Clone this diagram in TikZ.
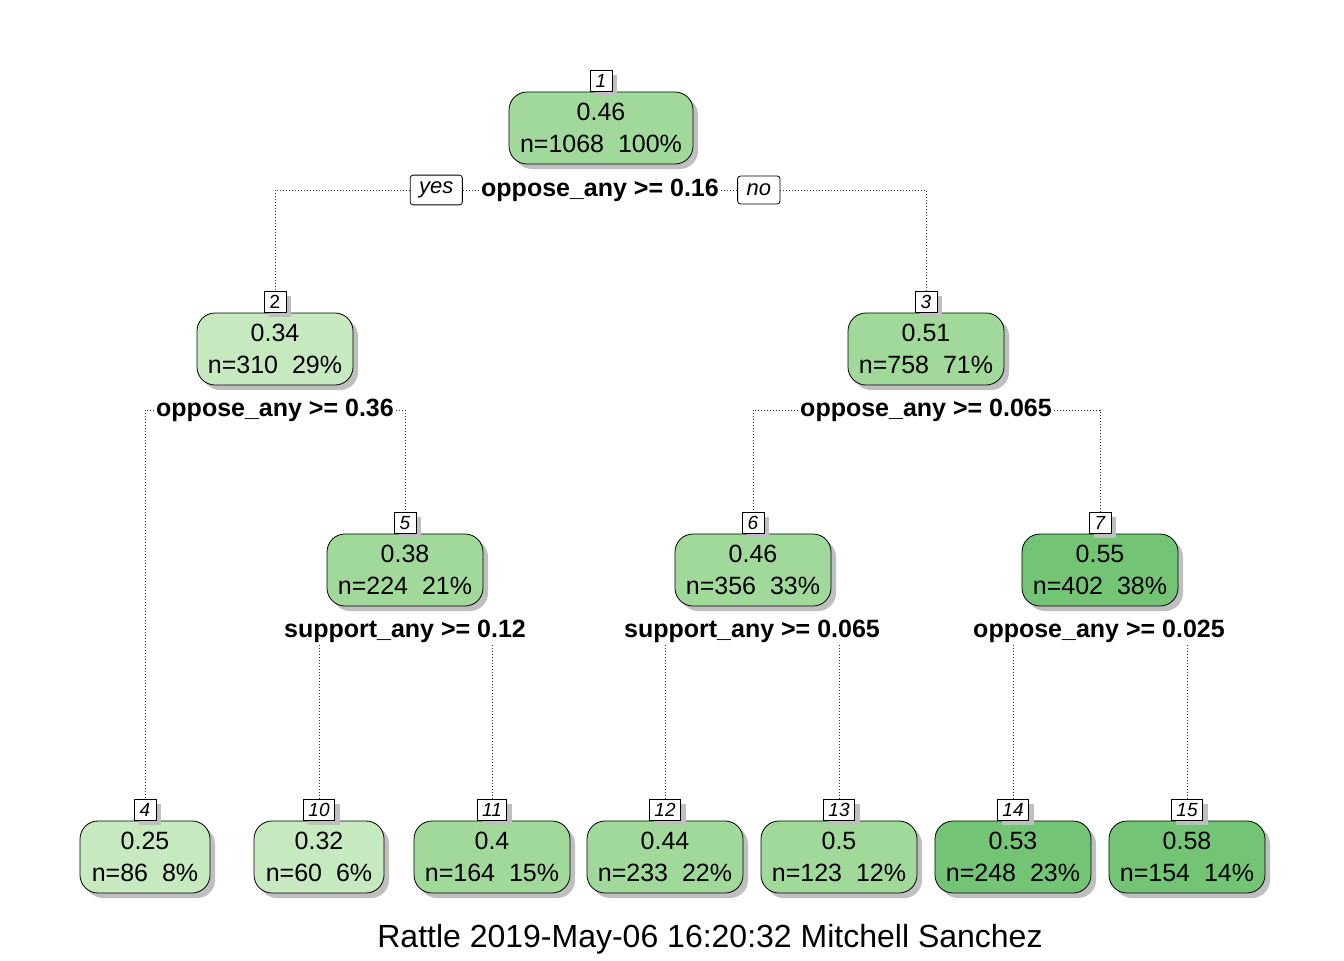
\documentclass[tikz,border=0pt]{standalone}
\usepackage{fontspec}
\setmainfont{Liberation Sans}
\usepackage{tikz}
\usetikzlibrary{positioning}
\usetikzlibrary{shadows}
\definecolor{gLight}{HTML}{C7E9C0}
\definecolor{gMid}{HTML}{A1D99B}
\definecolor{gDark}{HTML}{74C476}
\begin{document}
\begin{tikzpicture}[x=0.5pt,y=-0.5pt,
  box/.style={draw,thin,rounded corners=9pt,align=center,minimum width=78pt,minimum height=36pt,inner sep=0pt,
    font=\fontsize{12.5}{16}\selectfont,drop shadow={shadow xshift=2.5pt,shadow yshift=-2.5pt,fill=black!25,opacity=1}},
  leafbox/.style={box,minimum width=65pt},
  tag/.style={draw,thin,fill=white,inner xsep=2.5pt,inner ysep=0pt,minimum width=11pt,minimum height=10.5pt,
    font=\fontsize{9.5}{10}\selectfont\itshape,drop shadow={shadow xshift=2.5pt,shadow yshift=-2.5pt,fill=black!25,opacity=1}},
  split/.style={font=\fontsize{12.5}{15}\selectfont\bfseries,inner sep=1pt},
  yesno/.style={draw,thin,fill=white,rounded corners=1.5pt,minimum height=14pt,inner xsep=4.5pt,font=\fontsize{11}{12}\selectfont\itshape},
  edge/.style={draw=black!80,thin,dash pattern=on 0.5pt off 1pt}]
  \useasboundingbox (0,0) rectangle (1344,960);

  % root and second level
  \node[box,fill=gMid,minimum width=92pt] (n1) at (601,128) {0.46\\n=1068\ \ 100\%};
  \node[tag,above=0pt of n1] (t1) {1};
  \node[split] (s1) at (600,190) {oppose\_any >= 0.16};
  \node[yesno,left=8pt of s1] (yes) {yes};
  \node[yesno,right=8pt of s1] (no) {no};

  \node[box,fill=gLight] (n2) at (275,349) {0.34\\n=310\ \ 29\%};
  \node[tag,above=0pt of n2,font=\fontsize{9.5}{10}\selectfont] (t2) {2};
  \node[split] (s2) at (275,410) {oppose\_any >= 0.36};

  \node[box,fill=gMid] (n3) at (926,349) {0.51\\n=758\ \ 71\%};
  \node[tag,above=0pt of n3] (t3) {3};
  \node[split] (s3) at (926,410) {oppose\_any >= 0.065};

  % third level
  \node[box,fill=gMid] (n5) at (405,570) {0.38\\n=224\ \ 21\%};
  \node[tag,above=0pt of n5] (t5) {5};
  \node[split] (s5) at (405,631) {support\_any >= 0.12};

  \node[box,fill=gMid] (n6) at (753,570) {0.46\\n=356\ \ 33\%};
  \node[tag,above=0pt of n6] (t6) {6};
  \node[split] (s6) at (752,631) {support\_any >= 0.065};

  \node[box,fill=gDark] (n7) at (1100,570) {0.55\\n=402\ \ 38\%};
  \node[tag,above=0pt of n7] (t7) {7};
  \node[split] (s7) at (1099,631) {oppose\_any >= 0.025};

  % leaves
  \node[leafbox,fill=gLight] (n4) at (145,857) {0.25\\n=86\ \ 8\%};
  \node[tag,above=0pt of n4] (t4) {4};
  \node[leafbox,fill=gLight] (n10) at (319,857) {0.32\\n=60\ \ 6\%};
  \node[tag,above=0pt of n10] (t10) {10};
  \node[box,fill=gMid] (n11) at (492,857) {0.4\\n=164\ \ 15\%};
  \node[tag,above=0pt of n11] (t11) {11};
  \node[box,fill=gMid] (n12) at (665,857) {0.44\\n=233\ \ 22\%};
  \node[tag,above=0pt of n12] (t12) {12};
  \node[box,fill=gMid] (n13) at (839,857) {0.5\\n=123\ \ 12\%};
  \node[tag,above=0pt of n13] (t13) {13};
  \node[box,fill=gDark] (n14) at (1013,857) {0.53\\n=248\ \ 23\%};
  \node[tag,above=0pt of n14] (t14) {14};
  \node[box,fill=gDark] (n15) at (1187,857) {0.58\\n=154\ \ 14\%};
  \node[tag,above=0pt of n15] (t15) {15};

  \node[font=\fontsize{16}{19}\selectfont] (credit) at (710,939) {Rattle 2019-May-06 16:20:32 Mitchell Sanchez};

  % connectors
  \draw[edge] (yes.west) -| (t2.north);
  \draw[edge] (yes.east) -- (s1.west);
  \draw[edge] (s1.east) -- (no.west);
  \draw[edge] (no.east) -| (t3.north);
  \draw[edge] (s2.west) -| (t4.north);
  \draw[edge] (s2.east) -| (t5.north);
  \draw[edge] (s3.west) -| (t6.north);
  \draw[edge] (s3.east) -| (t7.north);
  \draw[edge] (s5.south -| t10.north) -- (t10.north);
  \draw[edge] (s5.south -| t11.north) -- (t11.north);
  \draw[edge] (s6.south -| t12.north) -- (t12.north);
  \draw[edge] (s6.south -| t13.north) -- (t13.north);
  \draw[edge] (s7.south -| t14.north) -- (t14.north);
  \draw[edge] (s7.south -| t15.north) -- (t15.north);
\end{tikzpicture}
\end{document}
